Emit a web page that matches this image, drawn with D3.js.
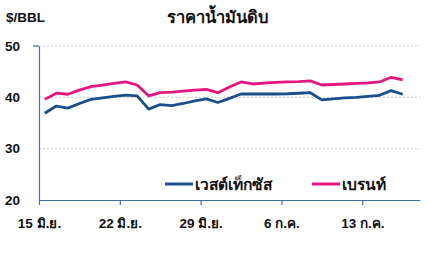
<!DOCTYPE html>
<html><head><meta charset="utf-8">
<script src="https://cdn.jsdelivr.net/npm/d3@7/dist/d3.min.js"></script>
<style>
body{margin:0;background:#fff;}
text{font-family:"Liberation Sans","DejaVu Sans",Arial,sans-serif;font-weight:bold;fill:#111;}
</style></head><body>
<svg id="c" width="430" height="263"></svg>
<script>
const title = "ราคาน้ำมันดิบ";
const unitLabel = "$/BBL";
const seriesNames = ["เวสต์เท็กซัส", "เบรนท์"];
const xTickLabels = ["15 มิ.ย.", "22 มิ.ย.", "29 มิ.ย.", "6 ก.ค.", "13 ก.ค."];
const yTicks = [20, 30, 40, 50];
const wti = [36.9,38.3,37.9,38.8,39.6,39.9,40.2,40.45,40.3,37.7,38.6,38.4,38.8,39.3,39.7,39.0,39.8,40.65,40.65,40.65,40.65,40.7,40.8,40.9,39.5,39.7,39.9,40.0,40.2,40.4,41.3,40.6];
const brent = [39.6,40.8,40.6,41.4,42.1,42.4,42.7,43.0,42.4,40.3,40.9,41.0,41.2,41.4,41.55,40.9,42.0,43.0,42.6,42.75,42.9,43.0,43.05,43.2,42.4,42.5,42.6,42.7,42.8,43.0,43.9,43.4];

const svg = d3.select("#c");
const L = 39, R = 420, T = 46, B = 200;
const nCat = 33;
const x = d3.scaleLinear().domain([0, nCat]).range([L, R]);
const y = d3.scaleLinear().domain([20, 50]).range([B, T]);
const axisColor = "#3f6fa8";

// grid
svg.append("g").selectAll("line").data(yTicks.filter(d => d > 20)).join("line")
  .attr("x1", L).attr("x2", R).attr("y1", d => y(d)).attr("y2", d => y(d))
  .attr("stroke", "#c8c8c8").attr("stroke-width", 1).attr("stroke-dasharray", "2,2");

// y axis
const ya = svg.append("g").attr("transform", `translate(${L},0)`)
  .call(d3.axisLeft(y).tickValues(yTicks).tickSize(0).tickPadding(19));
ya.select(".domain").attr("stroke", axisColor).attr("stroke-width", 1.2);
ya.selectAll("text").style("font-size", "13.5px").attr("fill", "#111");
svg.append("line").attr("x1", L - 6).attr("x2", L).attr("y1", y(50)).attr("y2", y(50))
  .attr("stroke", axisColor).attr("stroke-width", 1.2);

// x axis
const xa = svg.append("g").attr("transform", `translate(0,${B})`)
  .call(d3.axisBottom(x).tickValues(xTickLabels.map((d, i) => i * 7))
    .tickFormat((d, i) => xTickLabels[i]).tickSizeInner(5).tickSizeOuter(0).tickPadding(13));
xa.select(".domain").attr("stroke", axisColor).attr("stroke-width", 1.2);
xa.selectAll(".tick line").attr("stroke", axisColor).attr("stroke-width", 1.2);
xa.selectAll("text").style("font-size", "13.5px").attr("fill", "#111");

// lines
const line = d3.line().x((d, i) => x(i + 0.5)).y(d => y(d));
svg.append("path").datum(brent).attr("d", line).attr("fill", "none")
  .attr("stroke", "#e5157f").attr("stroke-width", 2.8).attr("stroke-linejoin", "round");
svg.append("path").datum(wti).attr("d", line).attr("fill", "none")
  .attr("stroke", "#1a4f8c").attr("stroke-width", 2.8).attr("stroke-linejoin", "round");

// title
svg.append("text").attr("x", 217).attr("y", 23).attr("text-anchor", "middle")
  .style("font-size", "16.5px").text(title);
svg.append("text").attr("x", 6).attr("y", 22).style("font-size", "13.5px").text(unitLabel);

// legend
const lg = [{n: seriesNames[0], c: "#1a4f8c", x: 165}, {n: seriesNames[1], c: "#e5157f", x: 312}];
const lgG = svg.append("g").selectAll("g").data(lg).join("g");
lgG.append("line").attr("x1", d => d.x).attr("x2", d => d.x + 28).attr("y1", 184).attr("y2", 184)
  .attr("stroke", d => d.c).attr("stroke-width", 3);
lgG.append("text").attr("x", d => d.x + 30).attr("y", 189.5).style("font-size", "15.5px").text(d => d.n);
</script></body></html>
